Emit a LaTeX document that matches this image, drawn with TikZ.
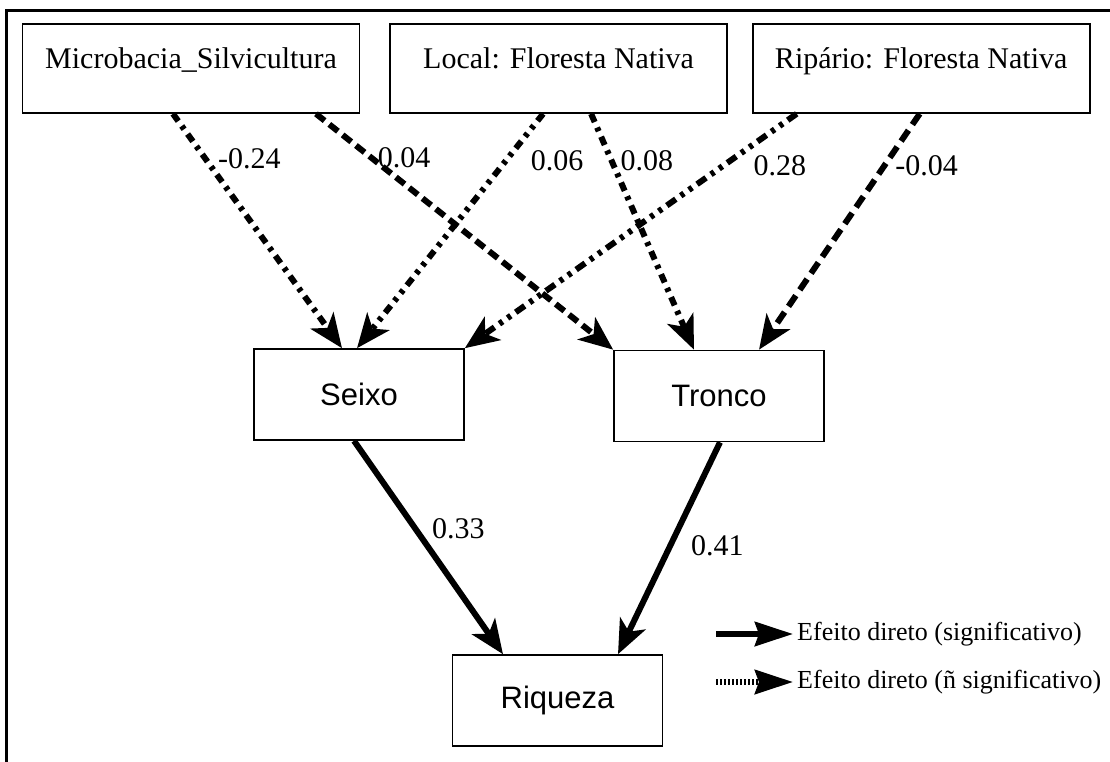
\documentclass[tikz,border=0pt]{standalone}
\usepackage{fontspec}
\setmainfont{Liberation Serif}
\setsansfont{Liberation Sans}
\usetikzlibrary{arrows.meta,positioning}

\begin{document}
\begin{tikzpicture}
	[x=1pt,y=-1pt,>={Stealth[length=34pt,width=28pt,inset=9pt]},
		var node/.style={rectangle,draw,line width=1.6pt,minimum width=337pt,minimum height=89pt,inner sep=0pt,text height=20pt,text depth=20pt,font=\fontsize{30}{36}\selectfont},
		resp node/.style={rectangle,draw,line width=1.6pt,minimum width=210pt,minimum height=91pt,inner sep=0pt,font=\sffamily\fontsize{31}{37}\selectfont},
		sig/.style={->,line width=6pt},
		nsig/.style={->,line width=6pt},
		coef/.style={inner sep=0pt,anchor=west,font=\fontsize{30}{36}\selectfont},
		key/.style={inner sep=0pt,anchor=west,font=\fontsize{26}{31}\selectfont}]

	\useasboundingbox (0,0) rectangle (1110,762);
	\draw[line width=3pt] (6,762) -- (6,11) -- (1110,11);

	% explanatory variables
	\node[var node] (micro) at (191,68.5) {Microbacia\_Silvicultura};
	\node[var node] (local) [right=29pt of micro] {Local: Floresta Nativa};
	\node[var node] (ripario) [right=24pt of local] {Ripário: Floresta Nativa};

	% habitat and response
	\node[resp node] (seixo) at (359,394.5) {Seixo};
	\node[resp node] (tronco) at (719,396) {Tronco};
	\node[resp node] (riqueza) at (557.5,700.5) {Riqueza};

	\path[]
	([xshift=-18pt]micro.south) edge [nsig, dash pattern=on 9pt off 6pt on 4pt off 6pt]
		node[coef, pos=.19, xshift=10pt] (c1) {-0.24} ([xshift=-17pt]seixo.north)
	([xshift=125pt]micro.south) edge [nsig, dash pattern=on 11pt off 6pt]
		node[coef, pos=.185, xshift=4pt] (c2) {0.04} (tronco.north west)
	([xshift=-15.5pt]local.south) edge [nsig, dash pattern=on 9pt off 6pt on 4pt off 6pt on 4pt off 6pt]
		node[coef, pos=.2, xshift=22pt] (c3) {0.06} ([xshift=-2pt]seixo.north)
	([xshift=32.5pt]local.south) edge [nsig, dash pattern=on 9pt off 6pt on 4pt off 6pt]
		node[coef, pos=.2, xshift=6pt] (c4) {0.08} ([xshift=-25pt]tronco.north)
	([xshift=-124.5pt]ripario.south) edge [nsig, dash pattern=on 11pt off 6pt on 4pt off 6pt on 4pt off 6pt]
		node[coef, pos=.22, xshift=27pt] (c5) {0.28} (seixo.north east)
	([xshift=-1.5pt]ripario.south) edge [nsig, dash pattern=on 13pt off 7pt]
		node[coef, pos=.22, xshift=8pt] (c6) {-0.04} ([xshift=40pt]tronco.north)
	([xshift=-5pt]seixo.south) edge [sig]
		node[coef, pos=.41, xshift=14pt] (c7) {0.33} ([xshift=-54.5pt]riqueza.north)
	([xshift=1pt]tronco.south) edge [sig]
		node[coef, pos=.49, xshift=18pt] (c8) {0.41} ([xshift=60.5pt]riqueza.north)
	;

	% legend
	\node[key] (key1) at (797,634) {Efeito direto (significativo)};
	\node[key] (key2) at (797,682) {Efeito direto (ñ significativo)};
	\coordinate (k1) at (716,634);
	\coordinate (k2) at (716,682);
	\draw[line width=6pt, -{Stealth[length=38pt,width=24pt,inset=4pt]}] (k1) -- ([xshift=-4pt]key1.west);
	\draw[line width=6pt, dash pattern=on 2pt off 2pt, -{Stealth[length=38pt,width=24pt,inset=4pt]}] (k2) -- ([xshift=-4pt]key2.west);

\end{tikzpicture}
\end{document}
